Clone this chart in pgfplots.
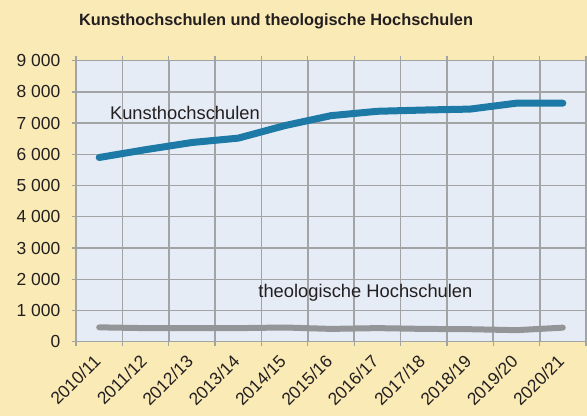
\documentclass[border=0pt]{standalone}
\usepackage{pgfplots}
\pgfplotsset{compat=1.18}
\usepackage{fontspec}
\setmainfont{Liberation Sans}
\definecolor{bgyellow}{HTML}{FAEAB5}
\definecolor{plotbg}{HTML}{E6ECF5}
\definecolor{gridgray}{HTML}{A2A3A5}
\definecolor{kunstblue}{HTML}{1D7AA6}
\definecolor{theogray}{HTML}{939598}
\definecolor{txt}{HTML}{231F20}
\begin{document}
\begin{tikzpicture}[x=1bp,y=1bp]
\fill[bgyellow] (0,0) rectangle (587,416);
\node[font=\fontsize{16.4}{18}\selectfont\bfseries, text=txt] at (276,395) {Kunsthochschulen und theologische Hochschulen};
\begin{axis}[
  at={(76bp,74.3bp)}, anchor=south west,
  scale only axis, width=510bp, height=281bp,
  xmin=-0.5, xmax=10.5, ymin=0, ymax=9000,
  axis background/.style={fill=plotbg},
  axis line style={draw=gridgray, line width=1.3bp},
  xtick={-0.5,0.5,1.5,2.5,3.5,4.5,5.5,6.5,7.5,8.5,9.5,10.5},
  xticklabels={},
  extra x ticks={0,1,2,3,4,5,6,7,8,9,10},
  extra x tick labels={2010/11,2011/12,2012/13,2013/14,2014/15,2015/16,2016/17,2017/18,2018/19,2019/20,2020/21},
  extra x tick style={grid=none, major tick length=0pt, tick style={draw=none}},
  major tick length=4.5bp,
  tick align=outside,
  tick style={gridgray, line width=1.3bp},
  ytick={0,1000,...,9000},
  grid=major,
  major grid style={gridgray, line width=1.3bp},
  major x grid style={gridgray, line width=1.7bp},
  /pgf/number format/assume math mode=true,
  /pgf/number format/1000 sep={\ },
  ticklabel style={font=\fontsize{17.5}{19}\selectfont, text=txt},
  xticklabel style={xshift=-6.5bp, yshift=-10bp, rotate=45, anchor=north east, inner sep=1bp},
  yticklabel style={inner sep=1bp, xshift=-10bp},
  clip=false,
]
\addplot[kunstblue, line width=7bp, line cap=round, line join=round] coordinates {
  (0,5900) (1,6150) (2,6380) (3,6520) (4,6920) (5,7240) (6,7380) (7,7420) (8,7450) (9,7640) (10,7640)
};
\addplot[theogray, line width=6bp, line cap=round, line join=round] coordinates {
  (0,460) (1,435) (2,435) (3,435) (4,455) (5,410) (6,435) (7,410) (8,400) (9,370) (10,450)
};
\node[anchor=base west, inner sep=0pt, font=\fontsize{18.4}{20}\selectfont, text=txt] at (axis cs:0.23,7123) {Kunsthochschulen};
\node[anchor=base west, inner sep=0pt, font=\fontsize{18.4}{20}\selectfont, text=txt] at (axis cs:3.43,1422) {theologische Hochschulen};
\end{axis}
\pgfresetboundingbox
\path (0,0) rectangle (587,416);
\end{tikzpicture}
\end{document}
